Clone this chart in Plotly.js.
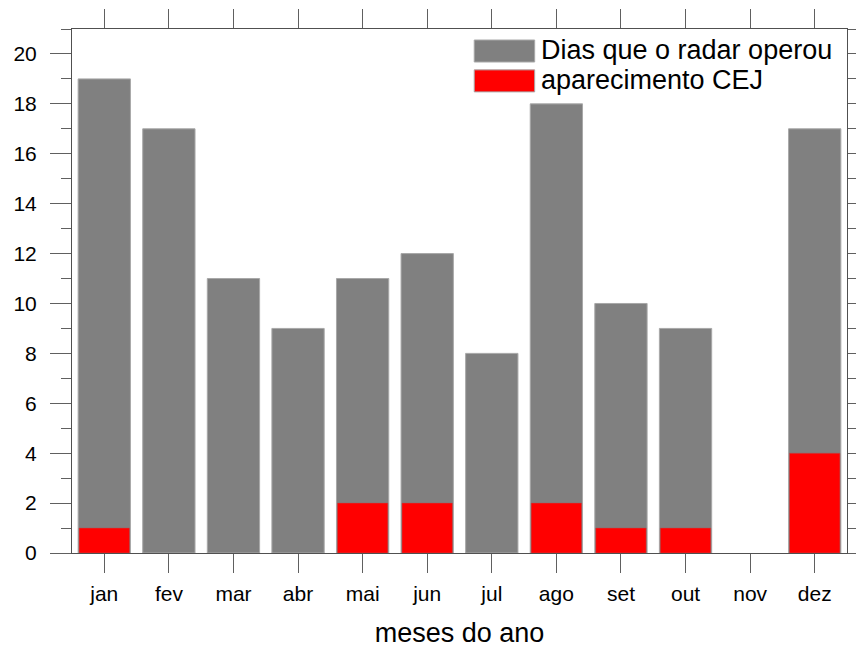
<!DOCTYPE html>
<html>
<head>
<meta charset="utf-8">
<script src="https://cdn.plot.ly/plotly-3.0.1.min.js"></script>
<style>html,body{margin:0;padding:0;background:#fff;}#chart{width:856px;height:648px;}</style>
</head>
<body>
<div id="chart"></div>
<script>
const months = ['jan','fev','mar','abr','mai','jun','jul','ago','set','out','nov','dez'];
const radarDays = [19, 17, 11, 9, 11, 12, 8, 18, 10, 9, 0, 17];
const cejDays = [1, 0, 0, 0, 2, 2, 0, 2, 1, 1, 0, 4];
const seriesNames = ['Dias que o radar operou', 'aparecimento CEJ'];
const seriesColors = ['#808080', '#ff0000'];

const traces = [
  {type:'bar', x: months, y: radarDays, name: seriesNames[0], width: 0.81,
   marker:{color: seriesColors[0], line:{color:'#a8a8a8', width: radarDays.map(v => v > 0 ? 1 : 0)}}},
  {type:'bar', x: months, y: cejDays, name: seriesNames[1], width: 0.78,
   marker:{color: seriesColors[1], line:{color:'#b05050', width: cejDays.map(v => v > 0 ? 0.5 : 0)}}}
];

const font = 'Liberation Sans, Arial, sans-serif';
const legendShapes = [];
const legendAnn = [];
const ly = [[0.979, 0.937], [0.922, 0.880]];
const lyText = [0.960, 0.902];
seriesNames.forEach((n, i) => {
  legendShapes.push({type:'rect', xref:'paper', yref:'paper', x0:0.519, x1:0.597, y0:ly[i][1], y1:ly[i][0],
    fillcolor: seriesColors[i], line:{color:'#a8a8a8', width:1}});
  legendAnn.push({xref:'paper', yref:'paper', x:0.603, y:lyText[i], xanchor:'left', yanchor:'middle',
    text:n, showarrow:false, font:{family:font, size:27, color:'#000'}});
});

const layout = {
  width:856, height:648,
  margin:{l:72, r:9, t:29, b:95},
  paper_bgcolor:'#fff', plot_bgcolor:'#fff',
  barmode:'overlay',
  showlegend:false,
  font:{family:font, color:'#000'},
  xaxis:{
    type:'category', range:[-0.5, 11.5],
    showline:true, linecolor:'#505050', linewidth:1, mirror:'ticks',
    ticks:'outside', ticklen:19, tickcolor:'#606060', tickwidth:1,
    ticklabelstandoff:3,
    showgrid:false, zeroline:false,
    tickfont:{family:font, size:21, color:'#000'},
    title:{text:'meses do ano', font:{family:font, size:27, color:'#000'}, standoff:18}
  },
  yaxis:{
    range:[0, 21], dtick:2, tick0:0,
    showline:true, linecolor:'#505050', linewidth:1, mirror:'ticks',
    ticks:'outside', ticklen:21, tickcolor:'#606060', tickwidth:1,
    ticklabelstandoff:9,
    minor:{dtick:1, tick0:0, ticks:'outside', ticklen:10, tickcolor:'#606060', showgrid:false},
    showgrid:false, zeroline:false,
    tickfont:{family:font, size:21, color:'#000'}
  },
  shapes: legendShapes,
  annotations: legendAnn
};

Plotly.newPlot('chart', traces, layout, {displayModeBar:false, staticPlot:true});
</script>
</body>
</html>
